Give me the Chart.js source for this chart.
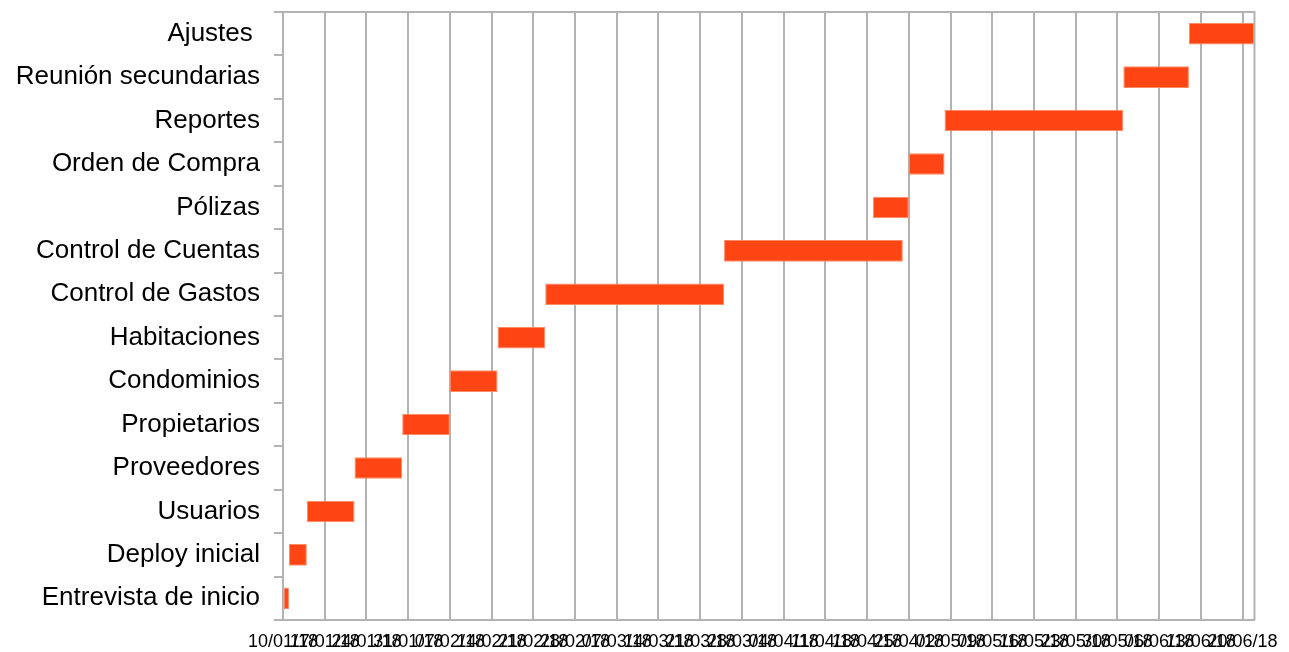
<!DOCTYPE html>
<html>
<head>
<meta charset="utf-8">
<script src="https://cdn.jsdelivr.net/npm/chart.js@4"></script>
<style>
  body { margin: 0; background: #fff; }
</style>
</head>
<body>
<canvas id="gantt" width="1289" height="652"></canvas>
<script>
// Datos de las tareas (fecha inicio / fin)
const tareas = [
    "Entrevista de inicio", "Deploy inicial", "Usuarios", "Proveedores",
    "Propietarios", "Condominios", "Habitaciones", "Control de Gastos",
    "Control de Cuentas", "Pólizas", "Orden de Compra", "Reportes",
    "Reunión secundarias", "Ajustes "
];
const inicios = [
    "2018-01-10", "2018-01-11", "2018-01-14", "2018-01-22",
    "2018-01-30", "2018-02-07", "2018-02-15", "2018-02-23",
    "2018-03-25", "2018-04-19", "2018-04-25", "2018-05-01",
    "2018-05-31", "2018-06-11"
];
const fines = [
    "2018-01-11", "2018-01-14", "2018-01-22", "2018-01-30",
    "2018-02-07", "2018-02-15", "2018-02-23", "2018-03-25",
    "2018-04-24", "2018-04-25", "2018-05-01", "2018-05-31",
    "2018-06-11", "2018-06-22"
];
const fechaBase = "2018-01-10";
const fechaFin = "2018-06-22";
const pasoDias = 7;

// === utilidades de fechas ===
const DIA = 86400000;
function dias(f) {
    return Math.round((Date.parse(f + "T00:00:00Z") - Date.parse(fechaBase + "T00:00:00Z")) / DIA);
}
function etiqueta(n) {
    const d = new Date(Date.parse(fechaBase + "T00:00:00Z") + n * DIA);
    const dd = String(d.getUTCDate()).padStart(2, "0");
    const mm = String(d.getUTCMonth() + 1).padStart(2, "0");
    const yy = String(d.getUTCFullYear()).slice(2);
    return dd + "/" + mm + "/" + yy;
}

const barras = tareas.map((t, i) => [dias(inicios[i]), dias(fines[i])]);

// marco superior y derecho del area
const marco = {
    id: "marco",
    afterDatasetsDraw(chart) {
        const a = chart.chartArea;
        const c = chart.ctx;
        c.save();
        c.strokeStyle = "#b3b3b3";
        c.lineWidth = 2;
        c.beginPath();
        c.moveTo(a.left, a.top);
        c.lineTo(a.right, a.top);
        c.lineTo(a.right, a.bottom);
        c.stroke();
        c.restore();
    }
};

const ctx = document.getElementById("gantt").getContext("2d");

new Chart(ctx, {
    type: "bar",
    data: {
        labels: tareas,
        datasets: [{
            data: barras,
            backgroundColor: "#ff4514",
            borderColor: "#ff8a66",
            borderWidth: 1,
            borderSkipped: false,
            barPercentage: 0.62,
            categoryPercentage: 0.8
        }]
    },
    options: {
        indexAxis: "y",
        responsive: false,
        animation: false,
        devicePixelRatio: 1,
        layout: { padding: { top: 12, right: 34 } },
        plugins: {
            legend: { display: false },
            tooltip: { enabled: false }
        },
        scales: {
            x: {
                type: "linear",
                min: 0,
                max: dias(fechaFin),
                afterFit: s => { s.height = 32; },
                afterBuildTicks: s => {
                    s.ticks = [];
                    for (let v = 0; v <= dias(fechaFin); v += pasoDias) s.ticks.push({ value: v });
                },
                grid: { color: "#b3b3b3", lineWidth: 2, drawTicks: false },
                border: { color: "#b3b3b3", width: 2 },
                ticks: {
                    autoSkip: false,
                    maxRotation: 0,
                    padding: 11,
                    color: "#000",
                    font: { family: "'Liberation Sans', Arial, sans-serif", size: 18 },
                    callback: v => etiqueta(v)
                }
            },
            y: {
                reverse: true,
                afterFit: s => {
                    s.width = 283;
                    s.paddingTop = 0;
                    s.paddingBottom = 0;
                },
                grid: {
                    offset: true,
                    drawOnChartArea: false,
                    color: "#b3b3b3",
                    lineWidth: 2,
                    tickLength: 9
                },
                border: { color: "#b3b3b3", width: 2 },
                ticks: {
                    padding: 14,
                    color: "#000",
                    font: { family: "'Liberation Sans', Arial, sans-serif", size: 26 }
                }
            }
        }
    },
    plugins: [marco]
});
</script>
</body>
</html>
